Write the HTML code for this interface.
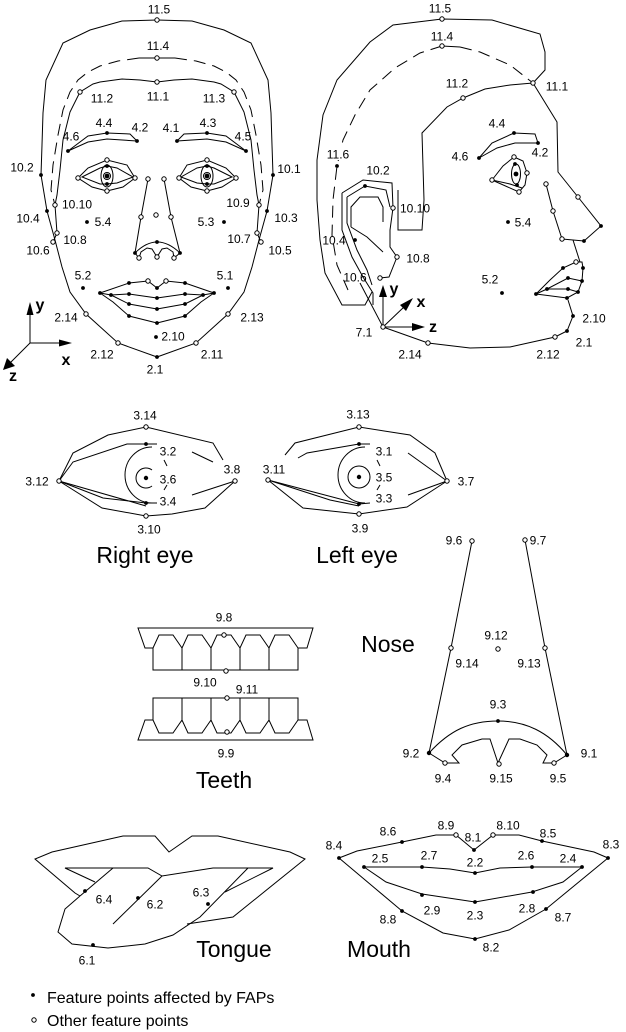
<!DOCTYPE html>
<html><head><meta charset="utf-8">
<style>
html,body{margin:0;padding:0;background:#fff;}
svg{display:block;}
text{font-family:"Liberation Sans",Arial,sans-serif;font-size:12px;fill:#000;text-anchor:middle;}
.t{font-size:23px;}
.ax{font-size:16px;font-weight:bold;}
.lg{font-size:16px;text-anchor:start;}
.l{stroke:#000;fill:none;stroke-width:1;}
.d{stroke-dasharray:12 7;}
.f{fill:#000;stroke:none;}
.o{fill:#fff;stroke:#000;stroke-width:1;}
</style></head><body>
<svg width="626" height="1032" viewBox="0 0 626 1032" xmlns="http://www.w3.org/2000/svg">

<!-- ===== FRONT FACE: left half ===== -->
<g class="l">
 <polyline points="157,20 122,21 90,30 63,43 46,80 43,113 42,145 41,175 47,211 55,240 62,267 70,292 86,314 118,343 157,357"/>
 <polyline class="d" points="139,58 118,61 100,66 88,72 78,80 70,92 63,110 58,135 53,165 51,190 55,205"/>
 <polyline points="139,58 157,58"/>
 <polyline points="157,82 140,80 122,79 100,82 93,84 80,92 70,112 63,140 60,170 57,195 55,205 57,233 53,242"/>
 <polyline points="68,151 88,136 107,133 130,134 137,141"/>
 <polyline points="68,151 88,142 107,139 137,141"/>
 <polygon points="78,178 88,168 107,160 127,165 135,178 123,187 107,191 92,187"/>
 <polygon points="82,177 100,168 107,166 117,168 133,177 117,183 107,184 100,184"/>
 <ellipse cx="107" cy="176" rx="6" ry="11"/>
 <circle cx="107" cy="176" r="3.5"/>
 <polyline points="100,293 129,283 148,281 157,288"/>
 <polyline points="100,293 111,295 129,294 157,298"/>
 <polyline points="111,295 129,304 157,309"/>
 <polyline points="100,293 113,302 129,316 157,323"/>
</g>
<g>
 <circle class="o" cx="80" cy="92" r="2.2"/>
 <circle class="f" cx="68" cy="151" r="1.9"/>
 <circle class="f" cx="107" cy="133" r="1.9"/>
 <circle class="f" cx="137" cy="141" r="1.9"/>
 <circle class="o" cx="78" cy="178" r="2.2"/>
 <circle class="o" cx="135" cy="178" r="2.2"/>
 <circle class="o" cx="107" cy="160" r="2.2"/>
 <circle class="f" cx="107" cy="166" r="1.9"/>
 <circle class="f" cx="107" cy="176" r="2.4"/>
 <circle class="f" cx="107" cy="184" r="1.9"/>
 <circle class="o" cx="107" cy="191" r="2.2"/>
 <circle class="f" cx="41" cy="175" r="1.9"/>
 <circle class="f" cx="47" cy="211" r="1.9"/>
 <circle class="o" cx="55" cy="205" r="2.2"/>
 <circle class="o" cx="57" cy="233" r="2.2"/>
 <circle class="o" cx="53" cy="242" r="2.2"/>
 <circle class="f" cx="87" cy="222" r="1.9"/>
 <circle class="f" cx="83" cy="288" r="1.9"/>
 <circle class="f" cx="100" cy="293" r="1.9"/>
 <circle class="f" cx="129" cy="283" r="1.9"/>
 <circle class="o" cx="148" cy="281" r="2.2"/>
 <circle class="f" cx="111" cy="295" r="1.9"/>
 <circle class="f" cx="129" cy="294" r="1.9"/>
 <circle class="f" cx="129" cy="304" r="1.9"/>
 <circle class="f" cx="129" cy="316" r="1.9"/>
 <circle class="o" cx="86" cy="314" r="2.2"/>
 <circle class="o" cx="118" cy="343" r="2.2"/>
</g>

<!-- ===== FRONT FACE: right half (mirror) ===== -->
<g transform="matrix(-1,0,0,1,314,0)">
<g class="l">
 <polyline points="157,20 122,21 90,30 63,43 46,80 43,113 42,145 41,175 47,211 55,240 62,267 70,292 86,314 118,343 157,357"/>
 <polyline class="d" points="139,58 118,61 100,66 88,72 78,80 70,92 63,110 58,135 53,165 51,190 55,205"/>
 <polyline points="139,58 157,58"/>
 <polyline points="157,82 140,80 122,79 100,82 93,84 80,92 70,112 63,140 60,170 57,195 55,205 57,233 53,242"/>
 <polyline points="68,151 88,136 107,133 130,134 137,141"/>
 <polyline points="68,151 88,142 107,139 137,141"/>
 <polygon points="78,178 88,168 107,160 127,165 135,178 123,187 107,191 92,187"/>
 <polygon points="82,177 100,168 107,166 117,168 133,177 117,183 107,184 100,184"/>
 <ellipse cx="107" cy="176" rx="6" ry="11"/>
 <circle cx="107" cy="176" r="3.5"/>
 <polyline points="100,293 129,283 148,281 157,288"/>
 <polyline points="100,293 111,295 129,294 157,298"/>
 <polyline points="111,295 129,304 157,309"/>
 <polyline points="100,293 113,302 129,316 157,323"/>
</g>
<g>
 <circle class="o" cx="80" cy="92" r="2.2"/>
 <circle class="f" cx="68" cy="151" r="1.9"/>
 <circle class="f" cx="107" cy="133" r="1.9"/>
 <circle class="f" cx="137" cy="141" r="1.9"/>
 <circle class="o" cx="78" cy="178" r="2.2"/>
 <circle class="o" cx="135" cy="178" r="2.2"/>
 <circle class="o" cx="107" cy="160" r="2.2"/>
 <circle class="f" cx="107" cy="166" r="1.9"/>
 <circle class="f" cx="107" cy="176" r="2.4"/>
 <circle class="f" cx="107" cy="184" r="1.9"/>
 <circle class="o" cx="107" cy="191" r="2.2"/>
 <circle class="f" cx="41" cy="175" r="1.9"/>
 <circle class="f" cx="47" cy="211" r="1.9"/>
 <circle class="o" cx="55" cy="205" r="2.2"/>
 <circle class="o" cx="57" cy="233" r="2.2"/>
 <circle class="o" cx="53" cy="242" r="2.2"/>
 <circle class="f" cx="90" cy="222" r="1.9"/>
 <circle class="f" cx="86" cy="288" r="1.9"/>
 <circle class="f" cx="100" cy="293" r="1.9"/>
 <circle class="f" cx="129" cy="283" r="1.9"/>
 <circle class="o" cx="148" cy="281" r="2.2"/>
 <circle class="f" cx="111" cy="295" r="1.9"/>
 <circle class="f" cx="129" cy="294" r="1.9"/>
 <circle class="f" cx="129" cy="304" r="1.9"/>
 <circle class="f" cx="129" cy="316" r="1.9"/>
 <circle class="o" cx="86" cy="314" r="2.2"/>
 <circle class="o" cx="118" cy="343" r="2.2"/>
</g>
</g>

<!-- front nose + center -->
<g class="l">
 <polyline points="148,179 141,217 135,253"/>
 <polyline points="164,179 171,217 180,253"/>
 <path d="M135,253 Q157,231 180,253"/>
 <polyline points="135,253 139,258 141,252 147,248 152,249 157,257 162,249 167,248 173,252 174,258 180,253"/>
 <polyline points="30,343 30,310"/>
 <polyline points="30,343 62,343"/>
 <polyline points="30,343 9,364"/>
</g>
<polygon points="26.5,315 30,302 33.5,315" fill="#000"/>
<polygon points="59,339.5 72,343 59,346.5" fill="#000"/>
<polygon points="3,370 7,358 15,366" fill="#000"/>
<g>
 <circle class="o" cx="148" cy="179" r="2.2"/>
 <circle class="o" cx="164" cy="179" r="2.2"/>
 <circle class="o" cx="141" cy="217" r="2.2"/>
 <circle class="o" cx="171" cy="217" r="2.2"/>
 <circle class="o" cx="156" cy="215" r="2.2"/>
 <circle class="f" cx="135" cy="253" r="1.9"/>
 <circle class="f" cx="180" cy="253" r="1.9"/>
 <circle class="f" cx="157" cy="242" r="1.9"/>
 <circle class="o" cx="139" cy="258" r="2.2"/>
 <circle class="o" cx="157" cy="257" r="2.2"/>
 <circle class="o" cx="174" cy="258" r="2.2"/>
 <circle class="o" cx="157" cy="20" r="2.2"/>
 <circle class="o" cx="157" cy="58" r="2.2"/>
 <circle class="o" cx="157" cy="82" r="2.2"/>
 <circle class="f" cx="157" cy="288" r="1.9"/>
 <circle class="f" cx="157" cy="298" r="1.9"/>
 <circle class="f" cx="157" cy="309" r="1.9"/>
 <circle class="f" cx="157" cy="323" r="1.9"/>
 <circle class="f" cx="156" cy="337" r="1.9"/>
 <circle class="f" cx="157" cy="357" r="1.9"/>
</g>

<!-- front labels -->
<text x="159" y="13.5">11.5</text>
<text x="158" y="50">11.4</text>
<text x="102" y="102.5">11.2</text>
<text x="158" y="100.5">11.1</text>
<text x="214" y="102.5">11.3</text>
<text x="104" y="127">4.4</text>
<text x="140" y="131.5">4.2</text>
<text x="71" y="140.5">4.6</text>
<text x="171" y="132">4.1</text>
<text x="208" y="127">4.3</text>
<text x="243" y="140.5">4.5</text>
<text x="22" y="171.5">10.2</text>
<text x="289" y="173">10.1</text>
<text x="77" y="208.5">10.10</text>
<text x="238" y="207">10.9</text>
<text x="28" y="222.5">10.4</text>
<text x="103" y="226">5.4</text>
<text x="206" y="226">5.3</text>
<text x="286" y="222">10.3</text>
<text x="75" y="244">10.8</text>
<text x="239" y="243">10.7</text>
<text x="38" y="254.5">10.6</text>
<text x="280" y="254.5">10.5</text>
<text x="83" y="279.5">5.2</text>
<text x="225" y="279.5">5.1</text>
<text x="66" y="321.5">2.14</text>
<text x="252" y="321.5">2.13</text>
<text x="173" y="340.5">2.10</text>
<text x="102" y="358.5">2.12</text>
<text x="212" y="358.5">2.11</text>
<text x="155" y="373.5">2.1</text>
<text class="ax" x="40" y="310">y</text>
<text class="ax" x="66" y="365">x</text>
<text class="ax" x="13" y="381">z</text>

<!-- ===== SIDE FACE ===== -->
<g class="l">
 <polyline points="533,83 545,70 545,52 540,34 492,20 442,19 393,25 370,42 337,80 323,115 317,160 317,200 320,240 325,273 342,305 365,305 372,292"/>
 <polyline points="442,46 460,47"/>
 <polyline class="d" points="460,47 480,52 510,65 533,83"/>
 <polyline class="d" points="442,46 420,53 395,68 370,90 355,115 343,140 337,166 333,200 332,235 337,265 348,290"/>
 <polyline points="533,83 510,85 485,89 463,98 447,107 422,133 424,200 422,230 398,230 398,190"/>
 <polyline points="533,83 557,122 558,172 578,197 601,226 584,241 562,239"/>
 <polyline points="573,240 580,262"/>
 <polyline points="546,184 553,211 562,239"/>
 <polyline points="479,158 492,143 514,133 535,134 538,143"/>
 <polyline points="479,158 497,148 515,143 538,143"/>
 <polygon points="492,180 503,166 514,157 523,161 527,173 525,185 519,192"/>
 <polyline points="492,180 510,184 522,188"/>
 <ellipse cx="516" cy="174" rx="4.5" ry="10"/>
 <polyline points="342,193 363,180 392,183 393,208 390,230 390,247 397,257 389,277 380,278"/>
 <polyline points="347,197 365,186 386,190 390,207"/>
 <polyline points="342,193 342,230 352,257 363,277 373,293 373,305"/>
 <polyline points="347,197 347,223 357,250 367,270 372,285"/>
 <polyline points="351,227 351,207 360,197 378,197 383,207 383,222"/>
 <polyline points="351,227 367,237 383,252"/>
 <polyline points="360,283 383,327"/>
 <polyline points="383,327 428,343 470,348 510,347 555,337 567,331 573,316 568,300"/>
 <polyline points="536,294 550,280 563,268 576,262 582,262 583,268"/>
 <polyline points="536,294 547,289 568,278 582,281"/>
 <polyline points="547,289 568,289 578,292"/>
 <polyline points="536,294 567,298 578,292 582,281 583,268"/>
 <polyline points="383,327 383,295"/>
 <polyline points="383,327 414,327"/>
 <polyline points="383,327 405,306"/>
</g>
<polygon points="379,297 383,285 387,297" fill="#000"/>
<polygon points="412,323 425,327 412,331" fill="#000"/>
<polygon points="413,298 400,305 406,311" fill="#000"/>
<rect x="326" y="148" width="24" height="12" fill="#fff"/>
<g>
 <circle class="o" cx="442" cy="19" r="2.2"/>
 <circle class="o" cx="442" cy="46" r="2.2"/>
 <circle class="o" cx="533" cy="83" r="2.2"/>
 <circle class="o" cx="463" cy="98" r="2.2"/>
 <circle class="f" cx="337" cy="166" r="1.9"/>
 <circle class="f" cx="365" cy="186" r="1.9"/>
 <circle class="o" cx="393" cy="208" r="2.2"/>
 <circle class="f" cx="355" cy="240" r="1.9"/>
 <circle class="o" cx="397" cy="257" r="2.2"/>
 <circle class="o" cx="380" cy="278" r="2.2"/>
 <circle class="f" cx="479" cy="158" r="1.9"/>
 <circle class="f" cx="514" cy="133" r="1.9"/>
 <circle class="f" cx="538" cy="143" r="1.9"/>
 <circle class="o" cx="514" cy="157" r="2.2"/>
 <circle class="o" cx="527" cy="173" r="2.2"/>
 <circle class="o" cx="519" cy="192" r="2.2"/>
 <circle class="o" cx="492" cy="180" r="2.2"/>
 <circle class="f" cx="515" cy="164" r="1.9"/>
 <circle class="f" cx="516" cy="174" r="2.4"/>
 <circle class="f" cx="517" cy="185" r="1.9"/>
 <circle class="f" cx="508" cy="222" r="1.9"/>
 <circle class="f" cx="502" cy="293" r="1.9"/>
 <circle class="o" cx="546" cy="184" r="2.2"/>
 <circle class="o" cx="553" cy="211" r="2.2"/>
 <circle class="o" cx="562" cy="239" r="2.2"/>
 <circle class="o" cx="578" cy="197" r="2.2"/>
 <circle class="f" cx="601" cy="226" r="1.9"/>
 <circle class="f" cx="584" cy="241" r="1.9"/>
 <circle class="o" cx="576" cy="262" r="2.2"/>
 <circle class="f" cx="563" cy="268" r="1.9"/>
 <circle class="f" cx="583" cy="268" r="1.9"/>
 <circle class="f" cx="568" cy="278" r="1.9"/>
 <circle class="f" cx="582" cy="281" r="1.9"/>
 <circle class="f" cx="547" cy="289" r="1.9"/>
 <circle class="f" cx="568" cy="289" r="1.9"/>
 <circle class="f" cx="578" cy="292" r="1.9"/>
 <circle class="f" cx="536" cy="294" r="1.9"/>
 <circle class="f" cx="567" cy="298" r="1.9"/>
 <circle class="f" cx="573" cy="316" r="1.9"/>
 <circle class="f" cx="567" cy="331" r="1.9"/>
 <circle class="o" cx="555" cy="337" r="2.2"/>
 <circle class="o" cx="428" cy="343" r="2.2"/>
 <circle class="o" cx="383" cy="327" r="2.2"/>
</g>
<text x="440" y="12.5">11.5</text>
<text x="442" y="40.5">11.4</text>
<text x="457" y="87.5">11.2</text>
<text x="557" y="90.5">11.1</text>
<text x="497" y="127.5">4.4</text>
<text x="460" y="160.5">4.6</text>
<text x="540" y="156.5">4.2</text>
<text x="338" y="158.5">11.6</text>
<text x="378" y="174.5">10.2</text>
<text x="415" y="212.5">10.10</text>
<text x="523" y="226.5">5.4</text>
<text x="334" y="244.5">10.4</text>
<text x="418" y="262.5">10.8</text>
<text x="355" y="281.5">10.6</text>
<text x="490" y="283.5">5.2</text>
<text x="364" y="336.5">7.1</text>
<text x="594" y="322.5">2.10</text>
<text x="584" y="346.5">2.1</text>
<text x="410" y="358.5">2.14</text>
<text x="548" y="358.5">2.12</text>
<text class="ax" x="394" y="294">y</text>
<text class="ax" x="421" y="307">x</text>
<text class="ax" x="433" y="332">z</text>

<!-- ===== EYES ===== -->
<g class="l">
 <polyline points="59,481 73,453 108,435 146,427 213,443 223,460"/>
 <polyline points="59,481 102,508 146,516 172,514 205,508 235,481"/>
 <polyline points="59,481 73,462 127,444 157,444"/>
 <polyline points="192,452 213,462"/>
 <polyline points="59,481 103,498 146,503 157,503"/>
 <polyline points="59,481 146,506"/>
 <polyline points="192,495 235,481"/>
 <path d="M152,447 A27,28 0 1 0 152,503"/>
 <path d="M152,470 A10,10 0 1 0 152,486"/>
 <polyline points="164,460 167,466"/>
 <polyline points="164,490 167,485"/>

 <polyline points="285,455 295,443 359,427 410,435 435,453 447,481"/>
 <polyline points="268,480 303,508 359,514 407,507 447,481"/>
 <polyline points="298,458 307,453 359,444 370,444"/>
 <polyline points="408,453 447,481"/>
 <polyline points="268,480 359,504 370,503"/>
 <polyline points="268,480 330,500 359,506"/>
 <polyline points="408,495 447,481"/>
 <path d="M365,447 A27,28 0 1 0 365,503"/>
 <circle cx="359" cy="477" r="11"/>
 <polyline points="377,460 380,466"/>
 <polyline points="377,490 380,485"/>
</g>
<g>
 <circle class="o" cx="146" cy="427" r="2.2"/>
 <circle class="o" cx="59" cy="481" r="2.2"/>
 <circle class="o" cx="235" cy="481" r="2.2"/>
 <circle class="o" cx="146" cy="516" r="2.2"/>
 <circle class="f" cx="146" cy="444" r="1.9"/>
 <circle class="f" cx="146" cy="478" r="2.2"/>
 <circle class="f" cx="146" cy="503" r="1.9"/>
 <circle class="o" cx="359" cy="427" r="2.2"/>
 <circle class="o" cx="268" cy="480" r="2.2"/>
 <circle class="o" cx="447" cy="481" r="2.2"/>
 <circle class="o" cx="359" cy="514" r="2.2"/>
 <circle class="f" cx="359" cy="444" r="1.9"/>
 <circle class="f" cx="359" cy="477" r="2.2"/>
 <circle class="f" cx="359" cy="504" r="1.9"/>
</g>
<text x="145" y="419.5">3.14</text>
<text x="168" y="455.5">3.2</text>
<text x="168" y="483.5">3.6</text>
<text x="168" y="505.5">3.4</text>
<text x="232" y="473.5">3.8</text>
<text x="37" y="485.5">3.12</text>
<text x="149" y="533.5">3.10</text>
<text x="358" y="418.5">3.13</text>
<text x="274" y="473.5">3.11</text>
<text x="384" y="455.5">3.1</text>
<text x="384" y="481.5">3.5</text>
<text x="384" y="502.5">3.3</text>
<text x="360" y="532.5">3.9</text>
<text x="466" y="485.5">3.7</text>
<text class="t" x="145" y="563">Right eye</text>
<text class="t" x="357" y="563">Left eye</text>

<!-- ===== TEETH ===== -->
<g class="l">
 <polyline points="153,648 145,648 138,628 313,628 307,648 298,648"/>
 <polyline points="153,648 153,670 298,670 298,648"/>
 <polyline points="182,648 182,670"/>
 <polyline points="211,648 211,670"/>
 <polyline points="240,648 240,670"/>
 <polyline points="269,648 269,670"/>
 <polyline points="153,648 159,635 173,635 182,648 188,635 202,635 211,648 217,635 231,635 240,648 246,635 260,635 269,648 275,635 289,635 298,648"/>

 <polyline points="153,720 153,698 298,698 298,720"/>
 <polyline points="182,698 182,720"/>
 <polyline points="211,698 211,720"/>
 <polyline points="240,698 240,720"/>
 <polyline points="269,698 269,720"/>
 <polyline points="153,720 159,733 173,733 182,720 188,733 202,733 211,720 217,733 231,733 240,720 246,733 260,733 269,720 275,733 289,733 298,720"/>
 <polyline points="153,720 145,720 138,740 313,740 307,720 298,720"/>
</g>
<g>
 <circle class="o" cx="224" cy="635" r="2.2"/>
 <circle class="o" cx="226" cy="671" r="2.2"/>
 <circle class="o" cx="227" cy="698" r="2.2"/>
 <circle class="o" cx="227" cy="732" r="2.2"/>
</g>
<text x="224" y="621.5">9.8</text>
<text x="205" y="686.5">9.10</text>
<text x="247" y="693.5">9.11</text>
<text x="226" y="757.5">9.9</text>
<text class="t" x="224" y="788">Teeth</text>

<!-- ===== NOSE ===== -->
<g class="l">
 <polyline points="472,541 451,648 429,753"/>
 <polyline points="525,540 545,648 567,755"/>
 <path d="M429,753 C450,730 470,721 498,721 C526,721 548,732 567,755"/>
 <polyline points="429,753 445,763 459,763 452,755 462,745 482,739 490,739 498,763 509,739 520,739 537,745 547,755 543,763 554,763 567,755"/>
</g>
<g>
 <circle class="o" cx="472" cy="541" r="2.2"/>
 <circle class="o" cx="525" cy="540" r="2.2"/>
 <circle class="o" cx="451" cy="648" r="2.2"/>
 <circle class="o" cx="545" cy="648" r="2.2"/>
 <circle class="o" cx="498" cy="649" r="2.2"/>
 <circle class="f" cx="498" cy="721" r="1.9"/>
 <circle class="f" cx="429" cy="753" r="2.2"/>
 <circle class="f" cx="567" cy="755" r="2.2"/>
 <circle class="o" cx="445" cy="763" r="2.2"/>
 <circle class="o" cx="499" cy="764" r="2.2"/>
 <circle class="o" cx="554" cy="763" r="2.2"/>
</g>
<text x="454" y="544.5">9.6</text>
<text x="538" y="544.5">9.7</text>
<text x="496" y="639.5">9.12</text>
<text x="467" y="667.5">9.14</text>
<text x="529" y="667.5">9.13</text>
<text x="498" y="708.5">9.3</text>
<text x="411" y="757.5">9.2</text>
<text x="589" y="757.5">9.1</text>
<text x="443" y="782.5">9.4</text>
<text x="501" y="782.5">9.15</text>
<text x="558" y="782.5">9.5</text>
<text class="t" x="388" y="652">Nose</text>

<!-- ===== TONGUE ===== -->
<g class="l">
 <polyline points="80,896 75,893 35,859 52,852 123,836 155,836 169,852 192,836 218,836 290,852 305,859 233,917 187,924"/>
 <polyline points="95,882 65,868 148,868 162,876 213,868 273,868 225,892"/>
 <polyline points="80,896 65,909 58,932 72,944 108,948 145,944 173,935 200,917 248,868"/>
 <polyline points="80,896 113,868"/>
 <polyline points="113,924 162,876"/>
</g>
<g>
 <circle class="f" cx="85" cy="891" r="1.9"/>
 <circle class="f" cx="138" cy="898" r="1.9"/>
 <circle class="f" cx="208" cy="904" r="1.9"/>
 <circle class="f" cx="93" cy="945" r="1.9"/>
</g>
<text x="104" y="903.5">6.4</text>
<text x="155" y="908.5">6.2</text>
<text x="201" y="896.5">6.3</text>
<text x="87" y="964.5">6.1</text>
<text class="t" x="234" y="957">Tongue</text>

<!-- ===== MOUTH ===== -->
<g class="l">
 <polyline points="339,858 357,851 402,842 436,835 456,835 474,850 493,835 519,835 542,841 594,852 608,858"/>
 <polyline points="364,867 422,867 450,869 475,873 500,868 532,867 582,867"/>
 <polyline points="364,867 386,882 422,894 475,902 532,892 563,882 582,867"/>
 <polyline points="339,858 402,911 443,933 475,939 509,930 546,909 608,858"/>
</g>
<g>
 <circle class="f" cx="339" cy="858" r="1.9"/>
 <circle class="f" cx="402" cy="842" r="1.9"/>
 <circle class="f" cx="474" cy="850" r="1.9"/>
 <circle class="f" cx="542" cy="841" r="1.9"/>
 <circle class="f" cx="608" cy="858" r="1.9"/>
 <circle class="o" cx="456" cy="835" r="2.2"/>
 <circle class="o" cx="493" cy="835" r="2.2"/>
 <circle class="f" cx="364" cy="867" r="1.9"/>
 <circle class="f" cx="422" cy="867" r="1.9"/>
 <circle class="f" cx="475" cy="873" r="1.9"/>
 <circle class="f" cx="532" cy="867" r="1.9"/>
 <circle class="f" cx="582" cy="867" r="1.9"/>
 <circle class="f" cx="422" cy="895" r="1.9"/>
 <circle class="f" cx="475" cy="902" r="1.9"/>
 <circle class="f" cx="533" cy="892" r="1.9"/>
 <circle class="f" cx="402" cy="911" r="1.9"/>
 <circle class="f" cx="475" cy="939" r="1.9"/>
 <circle class="f" cx="546" cy="909" r="1.9"/>
</g>
<text x="334" y="849.5">8.4</text>
<text x="388" y="835.5">8.6</text>
<text x="446" y="829.5">8.9</text>
<text x="473" y="841.5">8.1</text>
<text x="508" y="829.5">8.10</text>
<text x="548" y="837.5">8.5</text>
<text x="611" y="848.5">8.3</text>
<text x="380" y="862.5">2.5</text>
<text x="429" y="859.5">2.7</text>
<text x="475" y="866.5">2.2</text>
<text x="526" y="859.5">2.6</text>
<text x="568" y="862.5">2.4</text>
<text x="432" y="914.5">2.9</text>
<text x="475" y="919.5">2.3</text>
<text x="527" y="912.5">2.8</text>
<text x="388" y="923.5">8.8</text>
<text x="563" y="921.5">8.7</text>
<text x="491" y="951.5">8.2</text>
<text class="t" x="379" y="957">Mouth</text>

<!-- ===== LEGEND ===== -->
<circle class="f" cx="33" cy="995" r="1.9"/>
<text class="lg" x="47" y="1003">Feature points affected by FAPs</text>
<circle class="o" cx="34" cy="1020" r="2.2"/>
<text class="lg" x="47" y="1026">Other feature points</text>

</svg>
</body></html>
